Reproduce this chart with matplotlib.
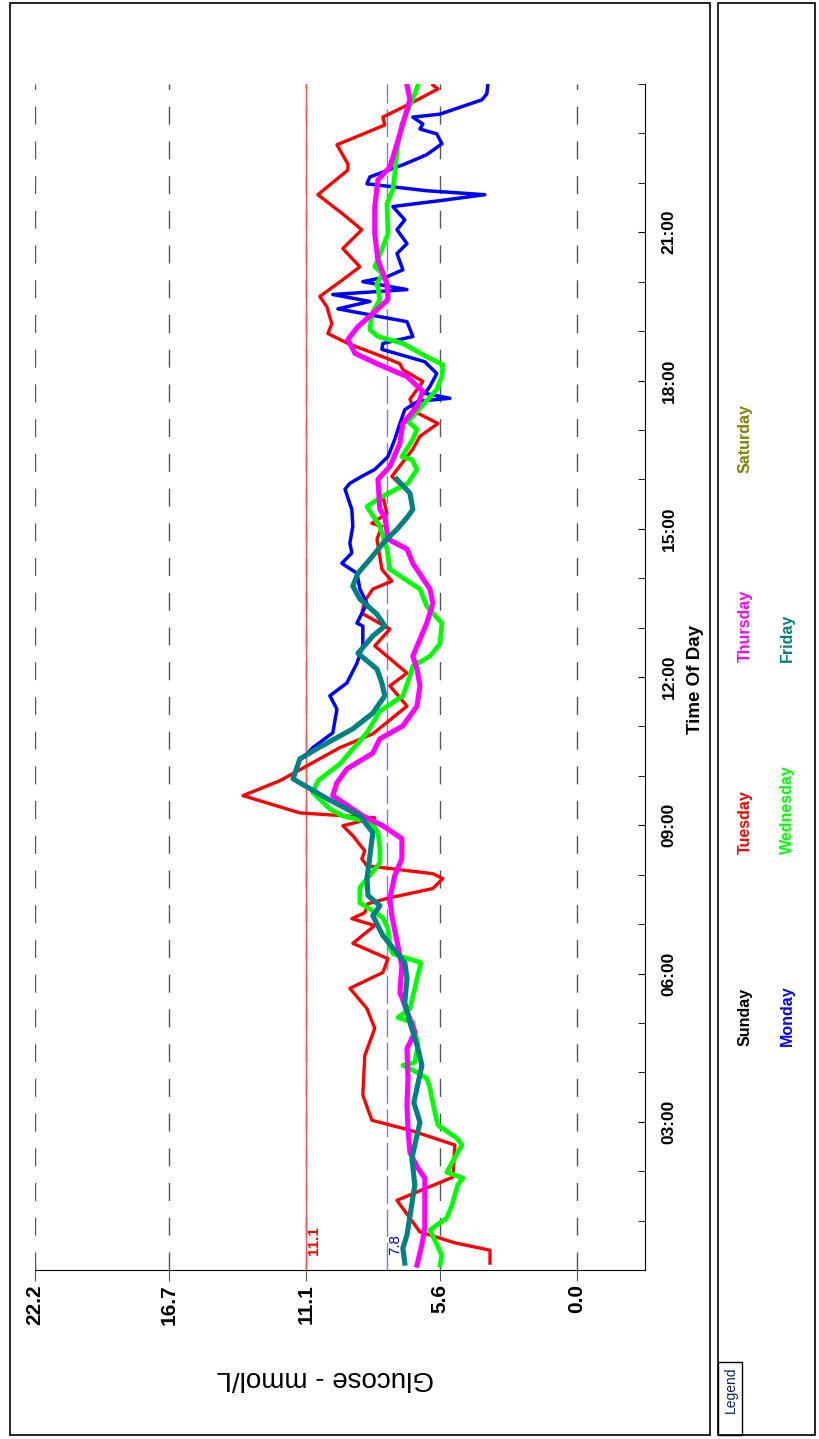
import matplotlib
matplotlib.use("Agg")
import matplotlib.pyplot as plt
from matplotlib.patches import Rectangle

plt.rcParams['font.family'] = ['Liberation Sans', 'DejaVu Sans']

# glucose readings, hours since midnight -> mmol/L
tuesday_hours = [0.14, 0.40, 0.55, 0.77, 1.41, 1.88, 2.53, 2.83, 3.03, 3.54, 4.34, 4.89, 5.29, 5.70,
                 6.02, 6.30, 6.61, 6.97, 7.11, 7.23, 7.41, 7.52, 7.72, 7.92, 8.02, 8.18, 8.32, 8.48,
                 8.79, 8.99, 9.15, 9.25, 9.60, 9.90, 10.57, 10.85, 11.41, 11.82, 12.08, 12.63, 12.97,
                 13.29, 13.54, 13.78, 13.94, 14.18, 14.79, 15.05, 15.11, 15.31, 15.66, 15.86, 16.06,
                 16.61, 16.87, 17.13, 17.37, 17.62, 17.98, 18.22, 18.34, 18.48, 18.75, 18.95, 19.15,
                 19.49, 19.70, 20.04, 20.30, 20.67, 21.05, 21.37, 21.76, 22.26, 22.38, 22.77, 23.17,
                 23.33, 23.60, 23.90, 23.98]
tuesday_mmol = [3.56, 3.56, 5.00, 6.43, 7.37, 5.08, 5.00, 6.84, 8.40, 8.77, 8.69, 8.28, 8.60, 9.30,
                7.95, 7.74, 9.18, 8.28, 9.22, 8.69, 8.56, 7.78, 5.90, 5.49, 5.90, 8.60, 8.81, 8.69,
                9.18, 9.59, 8.28, 11.35, 13.68, 12.17, 9.71, 8.36, 6.96, 7.66, 6.96, 8.28, 7.66,
                8.81, 8.69, 8.36, 7.58, 7.99, 8.19, 7.99, 8.40, 7.78, 7.95, 7.17, 7.58,
                6.72, 6.43, 5.69, 6.64, 6.84, 6.31, 7.13, 7.25, 7.95, 9.38, 10.20, 10.04,
                10.24, 10.53, 9.59, 8.89, 9.59, 8.81, 9.59, 10.61, 9.38, 9.38, 9.83, 7.87,
                7.95, 6.84, 5.69, 5.90]

wednesday_hours = [0.10, 0.30, 0.81, 1.05, 1.31, 1.72, 1.86, 1.98, 2.53, 2.67, 2.93, 3.19, 3.68, 3.88,
                   4.00, 4.14, 4.20, 4.55, 5.01, 5.11, 5.29, 6.22, 6.40, 6.53, 6.91, 7.13, 7.33, 7.43,
                   7.74, 8.24, 8.55, 8.85, 9.05, 9.19, 9.33, 9.66, 9.90, 10.24, 10.87, 11.07, 11.31,
                   11.62, 12.02, 12.22, 12.42, 12.67, 13.09, 13.43, 13.78, 14.18, 14.59, 15.05, 15.45,
                   15.66, 15.92, 16.20, 16.40, 16.46, 16.81, 17.01, 17.17, 17.62, 17.82, 18.08, 18.32,
                   18.48, 18.75, 18.89, 19.03, 19.35, 19.64, 19.96, 20.16, 20.30, 20.65, 20.97, 21.58,
                   21.86, 22.18, 22.67, 23.19, 23.80, 23.98]
wednesday_mmol = [5.61, 5.53, 6.02, 5.33, 5.12, 4.88, 4.67, 5.33, 4.71, 4.92, 5.69, 5.82, 6.02, 6.15,
                  6.55, 7.13, 6.64, 6.51, 6.72, 7.33, 6.84, 6.39, 7.54, 7.66, 7.74, 7.95, 8.56, 8.89,
                  8.89, 8.07, 8.07, 8.15, 8.40, 9.59, 10.12, 10.82, 10.61, 9.71, 8.60, 8.36, 8.07,
                  7.13, 6.84, 6.72, 6.02, 5.61, 5.53, 6.15, 6.43, 7.66, 7.78, 8.07, 8.60,
                  7.95, 6.92, 6.55, 6.76, 7.17, 6.72, 6.55, 6.92, 6.10, 5.74, 5.53, 5.49,
                  6.15, 7.13, 8.15, 8.48, 8.40, 8.07, 8.19, 7.95, 8.28, 7.99, 7.74, 7.78,
                  7.54, 7.46, 7.37, 7.17, 6.64, 6.51]

thursday_hours = [0.10, 0.51, 0.85, 1.86, 2.06, 2.38, 2.87, 3.33, 3.88, 4.48, 4.81, 5.62, 6.16, 7.17,
                  7.52, 7.98, 8.32, 8.73, 8.99, 9.19, 9.60, 9.86, 10.14, 10.46, 10.75, 11.01, 11.41,
                  11.82, 12.16, 12.42, 13.09, 13.49, 13.78, 14.30, 14.59, 14.79, 15.25, 15.39, 16.00,
                  16.26, 16.73, 17.13, 17.47, 17.78, 18.08, 18.34, 18.55, 18.83, 19.09, 19.43, 19.64,
                  19.96, 20.44, 20.97, 21.52, 22.06, 22.32, 22.79, 23.68, 23.98]
thursday_mmol = [6.55, 6.35, 6.23, 6.23, 6.51, 6.84, 6.92, 6.96, 6.92, 6.96, 6.64, 7.25, 7.17, 7.58,
                 7.66, 7.46, 7.17, 7.17, 7.95, 8.77, 10.00, 9.83, 9.42, 8.36, 8.07, 7.13, 6.55,
                 6.43, 6.55, 6.72, 6.15, 5.90, 6.02, 6.72, 6.96, 7.74, 7.87, 8.07, 8.15,
                 7.66, 7.25, 7.13, 6.55, 6.31, 6.96, 8.19, 9.09, 9.38, 8.97, 8.19, 7.74,
                 7.78, 8.15, 8.28, 8.28, 8.15, 7.66, 7.37, 6.84, 6.96]

friday_hours = [0.14, 0.44, 0.71, 1.72, 2.26, 2.99, 3.39, 4.14, 4.48, 5.01, 5.41, 5.90, 6.22, 6.77,
                7.17, 7.37, 7.58, 7.92, 8.38, 8.85, 9.19, 9.54, 9.94, 10.34, 10.55, 10.95, 11.27,
                11.62, 11.88, 12.16, 12.48, 12.83, 13.03, 13.27, 13.58, 13.84, 14.10, 14.38, 14.75,
                14.99, 15.25, 15.39, 15.72, 16.00]
friday_mmol = [7.05, 7.13, 6.96, 6.64, 6.76, 6.43, 6.68, 6.35, 6.51, 6.84, 7.05, 6.96, 7.05, 7.95,
               8.36, 8.07, 8.56, 8.60, 8.48, 8.36, 8.89, 10.24, 11.63, 11.35, 10.65, 9.18, 8.36,
               7.87, 7.99, 8.19, 8.97, 8.36, 7.87, 8.19, 8.89, 9.18, 8.97, 8.48, 7.87,
               7.37, 6.92, 6.72, 6.84, 7.37]

monday_hours = [10.40, 10.57, 10.87, 11.35, 11.62, 11.88, 12.28, 12.63, 13.03, 13.09, 13.49, 13.78,
                14.10, 14.30, 14.51, 14.71, 15.05, 15.39, 15.80, 15.92, 16.06, 16.20, 16.46, 16.81,
                17.13, 17.41, 17.58, 17.64, 17.74, 17.88, 18.14, 18.38, 18.63, 18.75, 18.89, 19.19,
                19.45, 19.60, 19.74, 19.84, 20.00, 20.10, 20.24, 20.57, 20.77, 21.05, 21.25, 21.52,
                21.64, 21.76, 21.84, 21.98, 22.12, 22.38, 22.57, 22.79, 22.99, 23.09, 23.19, 23.33,
                23.39, 23.68, 23.80, 23.98]
monday_mmol = [11.14, 10.82, 10.00, 9.83, 10.12, 9.42, 9.01, 8.77, 8.77, 9.01, 8.60, 8.89,
               9.01, 9.63, 9.22, 9.30, 9.18, 9.22, 9.50, 9.30, 8.81, 8.28, 7.74, 7.46,
               7.25, 7.05, 6.51, 5.20, 6.23, 6.02, 5.74, 6.23, 7.99, 7.95, 6.72, 6.96,
               9.79, 8.48, 10.00, 6.96, 8.77, 7.78, 7.13, 7.37, 6.96, 7.37, 7.05, 7.54,
               5.61, 3.77, 6.15, 8.60, 8.48, 7.05, 6.15, 5.53, 5.74, 6.43, 6.31, 6.72,
               5.61, 3.89, 3.69, 3.65]

glucose_ticks = [22.2, 16.7, 11.1, 5.6, 0.0]
hour_labels = ["03:00", "06:00", "09:00", "12:00", "15:00", "18:00", "21:00"]
high_limit = 11.1
low_limit = 7.8

legend_days = ["Sunday", "Monday", "Tuesday", "Wednesday", "Thursday", "Friday", "Saturday"]
legend_colors = ["black", "#0000FF", "#FF0000", "#00FF00", "#FF00FF", "#008080", "#808000"]

W, H = 819, 1439
fig = plt.figure(figsize=(W / 100, H / 100), dpi=100)


def fx(px):
    return px / W


def fy(py):
    return 1 - py / H


# panel frames
fig.patches.append(Rectangle((fx(10), fy(1435)), fx(700), 1432 / H, transform=fig.transFigure,
                             fill=False, edgecolor="black", lw=1.2))
fig.patches.append(Rectangle((fx(718), fy(1435)), fx(97), 1432 / H, transform=fig.transFigure,
                             fill=False, edgecolor="black", lw=1.2))
fig.patches.append(Rectangle((fx(718), fy(1435)), fx(24), 73 / H, transform=fig.transFigure,
                             fill=False, edgecolor="black", lw=1.0))
fig.text(fx(731), fy(1390), "Legend", rotation=90, ha="center", va="center",
         fontsize=10, color="#102060")

ax = fig.add_axes([fx(35), fy(1270), fx(645 - 35), (1270 - 84) / H])
ax.set_xlim(22.2, -2.79)
ax.set_ylim(0, 24)

for g in glucose_ticks:
    ax.axvline(g, color="#555555", lw=1.0, dashes=(13, 12), zorder=1)
ax.axvline(high_limit, color="#FF5050", lw=1.0, zorder=2)
ax.axvline(low_limit, color="#7777FF", lw=1.0, dashes=(20, 4), zorder=2)

ax.plot(tuesday_mmol, tuesday_hours, color="#FF0000", lw=2.4, solid_joinstyle="round", zorder=3)
ax.plot(monday_mmol, monday_hours, color="#0000FF", lw=2.5, solid_joinstyle="round", zorder=4)
ax.plot(wednesday_mmol, wednesday_hours, color="#00FF00", lw=3.4, solid_joinstyle="round", zorder=5)
ax.plot(thursday_mmol, thursday_hours, color="#FF00FF", lw=3.7, solid_joinstyle="round", zorder=6)
ax.plot(friday_mmol, friday_hours, color="#008080", lw=3.7, solid_joinstyle="round", zorder=7)

ax.text(high_limit - 0.35, 0.3, "11.1", color="#FF0000", rotation=90, ha="center", va="bottom",
        fontsize=11, fontweight="bold")
ax.text(low_limit - 0.35, 0.3, "7.8", color="#0000FF", rotation=90, ha="center", va="bottom",
        fontsize=11)

for side in ["left", "top"]:
    ax.spines[side].set_visible(False)
ax.spines["right"].set_color("black")
ax.spines["bottom"].set_color("black")

ax.set_xticks(glucose_ticks)
ax.set_xticklabels([f"{g:.1f}" for g in glucose_ticks], rotation=90, fontsize=15,
                   fontweight="bold", va="top", ha="center")
ax.tick_params(axis="x", direction="out", length=8, color="#555555", pad=2)

ax.yaxis.tick_right()
ax.set_yticks(range(3, 24, 3))
ax.set_yticklabels(hour_labels, rotation=90, fontsize=12.5, fontweight="bold", va="center")
ax.set_yticks(range(0, 25), minor=True)
ax.tick_params(axis="y", which="both", direction="in", length=5, pad=12)

fig.text(fx(695), fy(680), "Time Of Day", rotation=90, ha="center", va="center",
         fontsize=13.5, fontweight="bold")
fig.text(fx(325), fy(1378), "Glucose - mmol/L", rotation=180, ha="center", va="center",
         fontsize=20)

legend_x = [745, 787, 745, 787, 745, 787, 745]
legend_y = [1046, 1046, 854, 854, 662, 662, 473]
for name, col, lx, ly in zip(legend_days, legend_colors, legend_x, legend_y):
    fig.text(fx(lx), fy(ly), name, color=col, rotation=90, rotation_mode="anchor",
             ha="left", va="center", fontsize=11.5, fontweight="bold")

fig.savefig("out.png", dpi=100)
